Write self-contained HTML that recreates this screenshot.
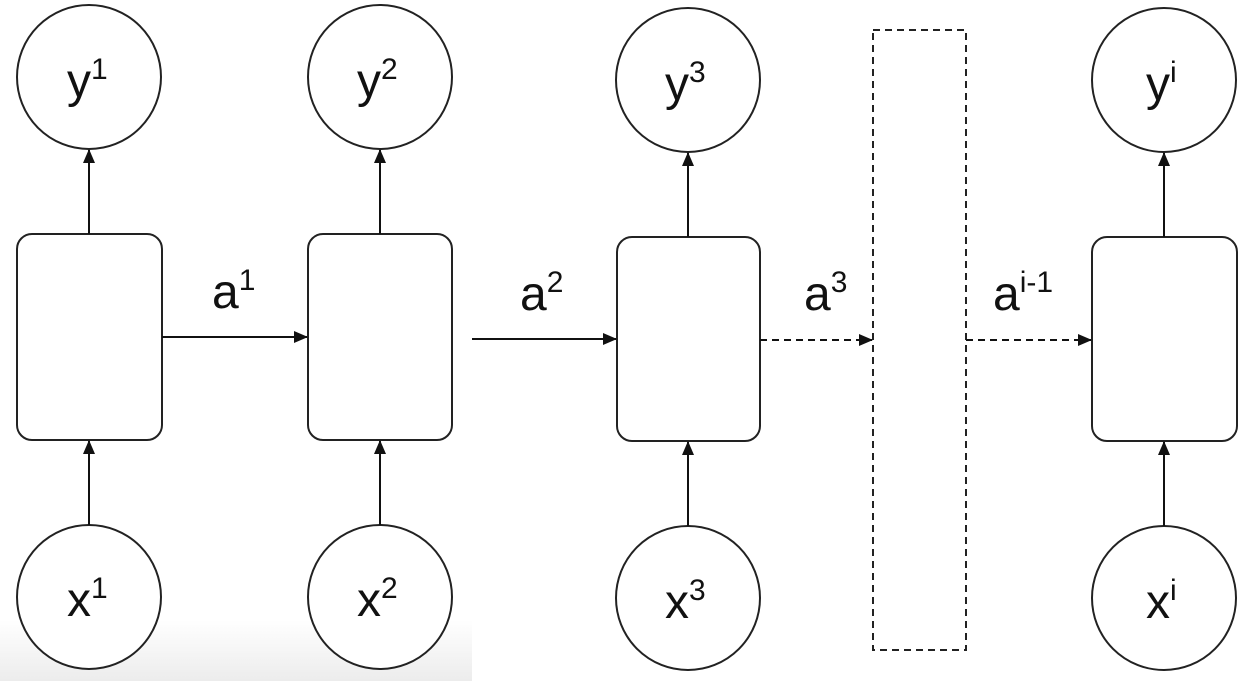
<!DOCTYPE html>
<html><head><meta charset="utf-8"><style>
html,body{margin:0;padding:0;background:#fff;}
svg{display:block;}
text{font-family:"Liberation Sans",sans-serif;fill:#111;}
</style></head><body>
<svg width="1253" height="681" viewBox="0 0 1253 681" xmlns="http://www.w3.org/2000/svg">
<defs>
<linearGradient id="g" x1="0" y1="0" x2="0" y2="1">
<stop offset="0" stop-color="#fff"/><stop offset="1" stop-color="#ececec"/>
</linearGradient>
<marker id="ar" markerWidth="14" markerHeight="14" refX="13" refY="7" orient="auto" markerUnits="userSpaceOnUse">
<path d="M0,1 L14,7 L0,13 z" fill="#111"/>
</marker>
</defs>
<rect x="0" y="620" width="472" height="61" fill="url(#g)"/>
<g fill="#fff" stroke="#222" stroke-width="2">
<circle cx="89" cy="77" r="72"/>
<rect x="17" y="234" width="145" height="206" rx="15"/>
<circle cx="89" cy="597" r="72"/>
<circle cx="380" cy="77" r="72"/>
<rect x="308" y="234" width="144" height="206" rx="15"/>
<circle cx="380" cy="597" r="72"/>
<circle cx="688" cy="80" r="72"/>
<rect x="617" y="237" width="143" height="204" rx="15"/>
<circle cx="688" cy="598" r="72"/>
<circle cx="1164" cy="80" r="72"/>
<rect x="1092" y="237" width="145" height="204" rx="15"/>
<circle cx="1164" cy="598" r="72"/>
</g>
<rect x="873" y="30" width="93" height="620" fill="none" stroke="#222" stroke-width="2" stroke-dasharray="7,5"/>
<g stroke="#111" stroke-width="2" fill="none">
<line x1="89" y1="234" x2="89" y2="150" marker-end="url(#ar)"/>
<line x1="89" y1="525" x2="89" y2="441" marker-end="url(#ar)"/>
<line x1="380" y1="234" x2="380" y2="150" marker-end="url(#ar)"/>
<line x1="380" y1="525" x2="380" y2="441" marker-end="url(#ar)"/>
<line x1="688" y1="237" x2="688" y2="153" marker-end="url(#ar)"/>
<line x1="688" y1="526" x2="688" y2="442" marker-end="url(#ar)"/>
<line x1="1164" y1="237" x2="1164" y2="153" marker-end="url(#ar)"/>
<line x1="1164" y1="526" x2="1164" y2="442" marker-end="url(#ar)"/>
<line x1="162" y1="337" x2="307" y2="337" marker-end="url(#ar)"/>
<line x1="472" y1="339" x2="616" y2="339" marker-end="url(#ar)"/>
<line x1="760" y1="340" x2="872" y2="340" stroke-dasharray="7,5" marker-end="url(#ar)"/>
<line x1="966" y1="340" x2="1091" y2="340" stroke-dasharray="7,5" marker-end="url(#ar)"/>
</g>
<g font-size="48">
<text x="67" y="97">y<tspan font-size="30" dy="-18">1</tspan></text>
<text x="357" y="97">y<tspan font-size="30" dy="-18">2</tspan></text>
<text x="665" y="100">y<tspan font-size="30" dy="-18">3</tspan></text>
<text x="1146" y="100">y<tspan font-size="30" dy="-18">i</tspan></text>
<text x="67" y="616">x<tspan font-size="30" dy="-18">1</tspan></text>
<text x="357" y="616">x<tspan font-size="30" dy="-18">2</tspan></text>
<text x="665" y="618">x<tspan font-size="30" dy="-18">3</tspan></text>
<text x="1146" y="618">x<tspan font-size="30" dy="-18">i</tspan></text>
<text x="212" y="308">a<tspan font-size="30" dy="-18">1</tspan></text>
<text x="520" y="310">a<tspan font-size="30" dy="-18">2</tspan></text>
<text x="804" y="310">a<tspan font-size="30" dy="-18">3</tspan></text>
<text x="993" y="310">a<tspan font-size="30" dy="-18">i-1</tspan></text>
</g>
</svg>
</body></html>
